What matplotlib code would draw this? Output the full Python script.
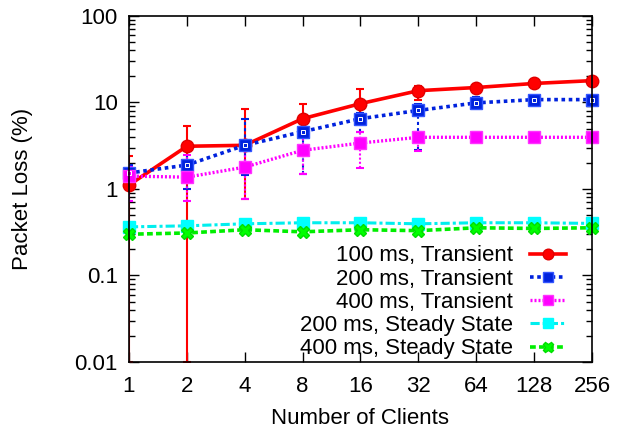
import matplotlib
matplotlib.use("Agg")
import matplotlib.pyplot as plt
from matplotlib.ticker import FixedLocator, NullLocator, LogLocator, FixedFormatter

plt.rcParams['font.family'] = ['Liberation Sans', 'DejaVu Sans']

clients = [1, 2, 4, 8, 16, 32, 64, 128, 256]
x_labels = ["1", "2", "4", "8", "16", "32", "64", "128", "256"]

t100 = [1.11, 3.12, 3.2, 6.5, 9.7, 13.7, 14.9, 16.6, 17.9]
t100_lo = [0.01, 0.01, 0.77, 5.0, 6.9, 10.8, 13.5, 15.5, 17.0]
t100_hi = [2.4, 5.4, 8.5, 9.5, 14.5, 15.5, 16.2, 17.5, 19.0]

t200 = [1.53, 1.89, 3.2, 4.6, 6.5, 8.1, 9.9, 10.8, 10.8]
t200_lo = [1.2, 1.0, 1.45, 1.5, 4.6, 2.8, 8.8, 10.3, 10.3]
t200_hi = [1.9, 3.0, 6.5, 6.5, 7.5, 9.5, 11.5, 11.5, 11.5]

t400 = [1.41, 1.37, 1.79, 2.8, 3.4, 3.96, 3.96, 3.96, 3.96]
t400_lo = [0.73, 0.73, 0.77, 1.5, 1.74, 2.73, 3.6, 3.7, 3.7]
t400_hi = [1.8, 2.5, 3.5, 4.0, 4.5, 4.6, 4.5, 4.2, 4.2]

s200 = [0.365, 0.375, 0.396, 0.407, 0.407, 0.396, 0.407, 0.407, 0.40]
s400 = [0.30, 0.31, 0.338, 0.32, 0.338, 0.33, 0.356, 0.35, 0.356]

labels = ["100 ms, Transient", "200 ms, Transient", "400 ms, Transient",
          "200 ms, Steady State", "400 ms, Steady State"]

FS = 16

fig = plt.figure(figsize=(6.17, 4.29), dpi=100)
ax = fig.add_axes([0.209, 0.1562, 0.7505, 0.8065])
ax.set_xscale('log', base=2)
ax.set_yscale('log')

styles = [
    dict(color='#ff0000', ls='-', lw=2.6, marker='o', ms=9, mec='#e00000', mfc='#ff0000'),
    dict(color='#0022dd', ls=(0, (1, 1)), lw=2.6, marker='s', ms=8.5, mec='#3355ff', mfc='#0022dd'),
    dict(color='#ff00ff', ls=(0, (0.6, 0.6)), lw=2.4, marker='s', ms=8, mec='#ff33ff', mfc='#ff00ff'),
    dict(color='#00eeee', ls=(0, (3, 1, 1, 1)), lw=2.2, marker='s', ms=8, mec='#00ffff', mfc='#00ffff'),
    dict(color='#00ee00', ls=(0, (1.6, 0.9)), lw=2.6, marker='X', ms=9, mec='#00dd00', mfc='#00ff00'),
]
err_ls = ['-', (0, (1.5, 1.5)), (0, (1, 1))]

errs = [(t100, t100_lo, t100_hi), (t200, t200_lo, t200_hi), (t400, t400_lo, t400_hi)]
for (vals, lo, hi), st, els in zip(errs, styles[:3], err_ls):
    yerr = [[v - l for v, l in zip(vals, lo)], [h - v for v, h in zip(vals, hi)]]
    cont = ax.errorbar(clients, vals, yerr=yerr, fmt='none', ecolor=st['color'],
                       elinewidth=1.5, capsize=3, capthick=1.5)
    for lc in cont[2]:
        lc.set_linestyle(els)

series = [t100, t200, t400, s200, s400]
handles = []
for vals, st, lab in zip(series, styles, labels):
    h, = ax.plot(clients, vals, label=lab, color=st['color'], ls=st['ls'], lw=st['lw'],
                 marker=st['marker'], ms=st['ms'], mec=st['mec'], mfc=st['mfc'], clip_on=False)
    handles.append(h)
# small white inner squares on blue markers (as in the reference)
ax.plot(clients, t200, ls='none', marker='s', ms=3.5, mfc='none', mec='white', mew=0.7, clip_on=False)

ax.set_xlim(1, 256)
ax.set_ylim(0.01, 100)
ax.xaxis.set_major_locator(FixedLocator(clients))
ax.xaxis.set_major_formatter(FixedFormatter(x_labels))
ax.xaxis.set_minor_locator(NullLocator())
ax.yaxis.set_major_locator(FixedLocator([0.01, 0.1, 1, 10, 100]))
ax.yaxis.set_major_formatter(FixedFormatter(["0.01", "0.1", "1", "10", "100"]))
ax.yaxis.set_minor_locator(LogLocator(base=10, subs=range(2, 10), numticks=20))

ax.tick_params(which='both', direction='in', top=True, right=True, labelsize=FS, width=1)
ax.tick_params(which='major', length=7)
ax.tick_params(axis='x', which='major', pad=10)
ax.tick_params(axis='y', which='major', pad=8)
ax.tick_params(which='minor', length=4)
for s in ax.spines.values():
    s.set_linewidth(1.2)

ax.set_xlabel("Number of Clients", fontsize=FS, labelpad=8)
ax.set_ylabel("Packet Loss (%)", fontsize=FS, labelpad=30)

leg = ax.legend(handles=handles, loc='lower right', frameon=False, markerfirst=False, fontsize=FS,
                handlelength=1.6, handletextpad=0.75, labelspacing=0.1,
                borderaxespad=0.0, bbox_to_anchor=(0.962, -0.018), numpoints=1, markerscale=0.85)
for t in leg.get_texts():
    t.set_ha('right')

fig.savefig("out.png", dpi=100)
